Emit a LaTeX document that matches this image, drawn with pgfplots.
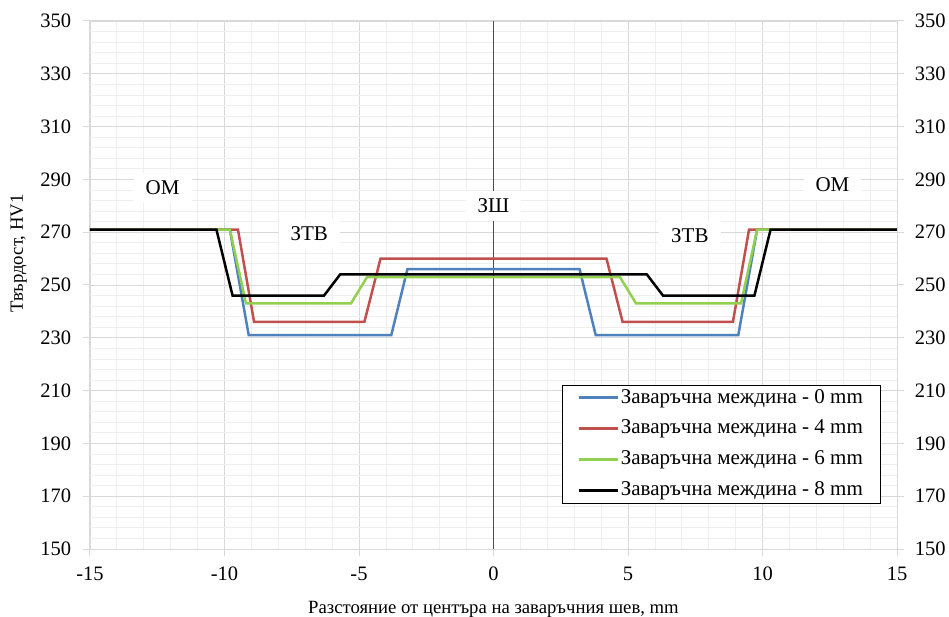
\documentclass[border=0pt]{standalone}
\usepackage{pgfplots}
\pgfplotsset{compat=1.18}
\usepackage{fontspec}
\setmainfont{Liberation Serif}
\definecolor{cblue}{HTML}{4F81BD}
\definecolor{cred}{HTML}{C0504D}
\definecolor{cgreen}{HTML}{92D050}
\definecolor{gmaj}{HTML}{D9D9D9}
\definecolor{gmin}{HTML}{EFEFEF}
\begin{document}
\fontsize{20bp}{24bp}\selectfont
\begin{tikzpicture}
\begin{axis}[name=ax,
  scale only axis, width=807bp, height=528bp,
  xmin=-15, xmax=15, ymin=150, ymax=350,
  xtick={-15,-10,...,15}, ytick={150,170,...,350},
  minor x tick num=4, minor y tick num=4,
  grid=both,
  major grid style={gmaj, line width=0.8bp},
  minor grid style={gmin, line width=0.8bp},
  axis line style={gmaj, line width=1bp},
  tick style={gmaj, line width=1bp},
  major tick length=7bp, minor tick length=0pt,
  tick align=outside,
  xtick pos=bottom, ytick pos=left,
  /pgf/number format/assume math mode=true,
  ticklabel style={font=\fontsize{20.5bp}{24bp}\selectfont, text=black},
  xticklabel style={yshift=-4bp},
  yticklabel style={xshift=-5bp},
  xlabel={Разстояние от центъра на заваръчния шев, mm},
  ylabel={Твърдост, HV1},
  label style={font=\fontsize{18.7bp}{22bp}\selectfont},
  xlabel style={yshift=-7bp},
  ylabel style={at={(ticklabel cs:0.56)}, yshift=0bp},
  legend style={at={(0.979,0.087)}, anchor=south east, draw=black, fill=white,
    font=\fontsize{21bp}{24bp}\selectfont, row sep=14bp, inner xsep=15bp, inner ysep=4bp,
    nodes={inner xsep=2bp, inner ysep=0bp}},
  legend cell align=left,
  legend image code/.code={\path (0bp,0bp) -- (16bp,0bp); \draw[#1, line width=2.5bp] (16bp,0bp) -- (39bp,0bp);},
]
\draw[black!70, line width=1bp] (axis cs:0,150) -- (axis cs:0,350);
\addplot[cblue, line width=2.5bp] coordinates {(-15,271)(-9.8,271)(-9.1,231)(-3.8,231)(-3.2,256)(3.2,256)(3.8,231)(9.1,231)(9.8,271)(15,271)};
\addplot[cred, line width=2.5bp] coordinates {(-15,271)(-9.5,271)(-8.9,236)(-4.8,236)(-4.2,260)(4.2,260)(4.8,236)(8.9,236)(9.5,271)(15,271)};
\addplot[cgreen, line width=2.5bp] coordinates {(-15,271)(-9.8,271)(-9.2,243)(-5.3,243)(-4.7,253)(4.7,253)(5.3,243)(9.2,243)(9.8,271)(15,271)};
\addplot[black, line width=2.5bp] coordinates {(-15,271)(-10.3,271)(-9.7,246)(-6.3,246)(-5.7,254)(5.7,254)(6.3,246)(9.7,246)(10.3,271)(15,271)};
\legend{Заваръчна междина - 0 mm, Заваръчна междина - 4 mm, Заваръчна междина - 6 mm, Заваръчна междина - 8 mm}
\node[fill=white, inner xsep=12bp, inner ysep=8bp, font=\fontsize{21bp}{24bp}\selectfont] at (axis cs:-12.3,286.7) {ОМ};
\node[fill=white, inner xsep=12bp, inner ysep=8bp, font=\fontsize{21bp}{24bp}\selectfont] at (axis cs:-6.85,269.3) {ЗТВ};
\node[fill=white, inner xsep=12bp, inner ysep=8bp, font=\fontsize{21bp}{24bp}\selectfont] at (axis cs:0,280) {ЗШ};
\node[fill=white, inner xsep=12bp, inner ysep=8bp, font=\fontsize{21bp}{24bp}\selectfont] at (axis cs:7.3,268.6) {ЗТВ};
\node[fill=white, inner xsep=12bp, inner ysep=8bp, font=\fontsize{21bp}{24bp}\selectfont] at (axis cs:12.6,287.9) {ОМ};
\end{axis}
\begin{axis}[
  scale only axis, width=807bp, height=528bp,
  xmin=-15, xmax=15, ymin=150, ymax=350,
  ytick={150,170,...,350},
  hide x axis, axis y line*=right,
  axis line style={gmaj, line width=1bp},
  tick style={gmaj, line width=1bp},
  major tick length=7bp, tick align=outside,
  /pgf/number format/assume math mode=true,
  ticklabel style={font=\fontsize{20.5bp}{24bp}\selectfont, text=black},
  yticklabel style={xshift=4bp},
]
\end{axis}
\pgfresetboundingbox
\path[use as bounding box] (ax.south west) ++(-90bp,-68bp) rectangle ++(949bp,617bp);
\end{tikzpicture}
\end{document}
